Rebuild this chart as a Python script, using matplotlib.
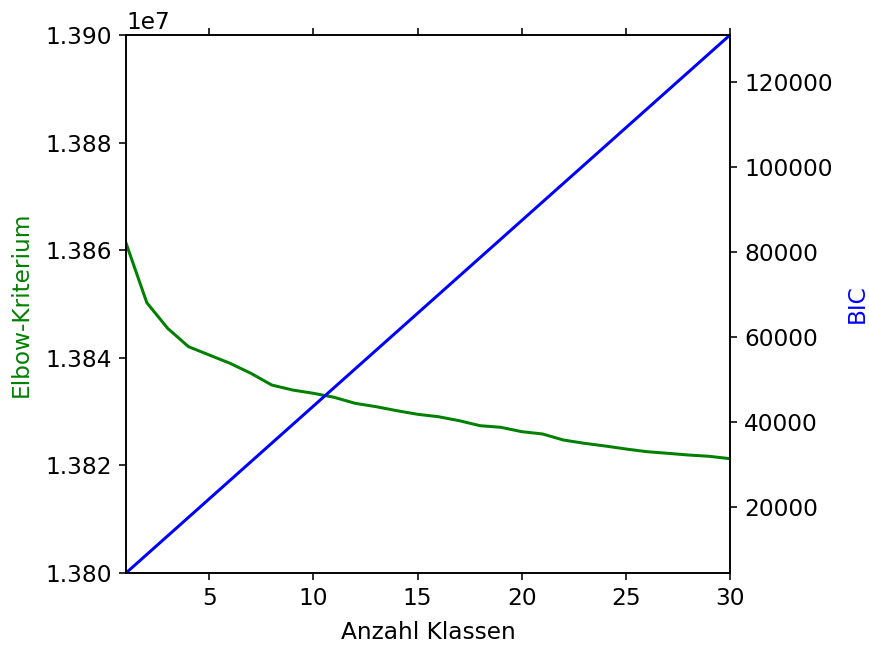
import numpy as np
import matplotlib
matplotlib.use("Agg")
import matplotlib.pyplot as plt

plt.rcParams['font.size'] = 11.6

# Anzahl Klassen
klassen = list(range(1, 31))

# Elbow-Kriterium
elbow = [1.386134e7, 1.385024e7, 1.384548e7, 1.384207e7, 1.384052e7,
         1.383897e7, 1.383711e7, 1.383494e7, 1.383401e7, 1.383340e7,
         1.383265e7, 1.383154e7, 1.383092e7, 1.383017e7, 1.382950e7,
         1.382905e7, 1.382831e7, 1.382738e7, 1.382708e7, 1.382627e7,
         1.382584e7, 1.382472e7, 1.382411e7, 1.382361e7, 1.382305e7,
         1.382255e7, 1.382225e7, 1.382193e7, 1.382169e7, 1.382125e7]

# BIC
bic = [4470, 8835, 13200, 17565, 21930, 26295, 30660, 35025, 39390, 43755,
       48120, 52485, 56850, 61215, 65580, 69945, 74310, 78675, 83040, 87405,
       91770, 96135, 100500, 104865, 109230, 113595, 117960, 122325, 126690,
       131055]

fig = plt.figure(figsize=(869/144, 646/144), dpi=144)
ax1 = fig.add_axes([126/869, 1-573/646, 604/869, 538/646])
ax1.plot(klassen, elbow, color='g')
ax1.set_xlim(1, 30)
ax1.set_ylim(1.380e7, 1.390e7)
ax1.set_xlabel('Anzahl Klassen', labelpad=5.5)
ax1.set_ylabel('Elbow-Kriterium', color='g', labelpad=6.5)
ax1.xaxis.set_ticks_position('both')

ax2 = ax1.twinx()
ax2.plot(klassen, bic, color='b')
ax2.set_ylim(bic[0], bic[-1])
ax2.set_ylabel('BIC', color='b', labelpad=6.5)

fig.savefig('out.png', dpi=144)
